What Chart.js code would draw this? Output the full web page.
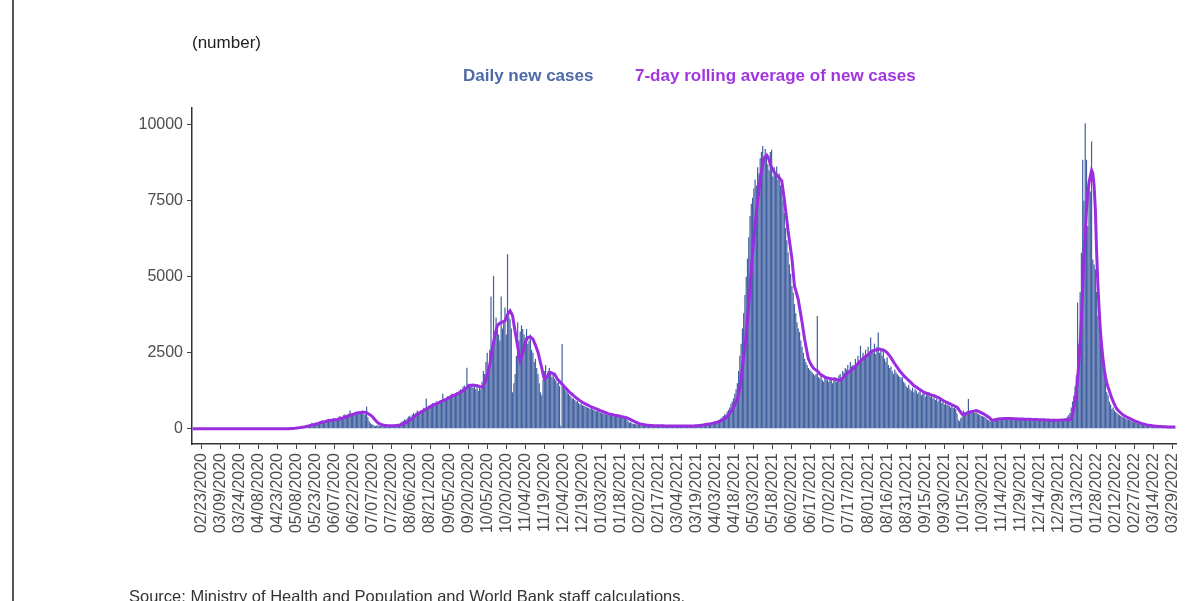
<!DOCTYPE html>
<html><head><meta charset="utf-8">
<script src="https://cdn.jsdelivr.net/npm/chart.js@4.4.1/dist/chart.umd.min.js"></script>
<style>
html,body{margin:0;padding:0;background:#fff;width:1187px;height:601px;overflow:hidden;font-family:"Liberation Sans",Arial,sans-serif;}
#wrap{position:relative;width:1187px;height:601px;}
canvas{position:absolute;left:0;top:0;}
.txt{position:absolute;white-space:nowrap;line-height:20px;}
</style></head><body>
<div id="wrap">
<div style="position:absolute;left:12px;top:0;width:2px;height:601px;background:#555"></div>
<canvas id="c" width="1187" height="601"></canvas>
<div class="txt" style="left:192px;top:33px;font-size:17px;color:#222;">(number)</div>
<div class="txt" style="left:463px;top:66px;font-size:17px;font-weight:bold;color:#4f6aa6;">Daily new cases</div>
<div class="txt" style="left:635px;top:66px;font-size:17px;font-weight:bold;color:#a135e0;">7-day rolling average of new cases</div>
<div class="txt" style="left:129px;top:586px;font-size:16.5px;color:#333;">Source: Ministry of Health and Population and World Bank staff calculations.</div>
</div>
<script>
// First day of the series (day index 0) = 02/16/2020
const startDate = [2020, 2, 16];

const tickLabels = ['02/23/2020','03/09/2020','03/24/2020','04/08/2020','04/23/2020','05/08/2020','05/23/2020','06/07/2020','06/22/2020','07/07/2020','07/22/2020','08/06/2020','08/21/2020','09/05/2020','09/20/2020','10/05/2020','10/20/2020','11/04/2020','11/19/2020','12/04/2020','12/19/2020','01/03/2021','01/18/2021','02/02/2021','02/17/2021','03/04/2021','03/19/2021','04/03/2021','04/18/2021','05/03/2021','05/18/2021','06/02/2021','06/17/2021','07/02/2021','07/17/2021','08/01/2021','08/16/2021','08/31/2021','09/15/2021','09/30/2021','10/15/2021','10/30/2021','11/14/2021','11/29/2021','12/14/2021','12/29/2021','01/13/2022','01/28/2022','02/12/2022','02/27/2022','03/14/2022','03/29/2022'];

const yTicks = [0, 2500, 5000, 7500, 10000];

const dailyCases = [
0,0,0,0,0,0,0,0,0,0,
0,0,0,0,0,0,0,0,0,0,
0,0,0,0,0,0,0,0,0,0,
0,0,0,0,0,0,1,0,0,0,
2,0,1,0,0,0,0,3,0,0,
1,0,0,0,4,0,0,0,0,5,
0,0,1,0,1,0,0,0,0,0,
0,3,1,0,0,2,10,24,15,20,
30,40,35,50,60,55,70,85,90,110,
100,95,150,140,200,170,160,180,210,150,
230,260,280,220,190,290,300,330,280,320,
260,350,300,320,330,380,420,400,360,450,
480,420,470,500,600,450,520,500,560,470,
580,540,520,580,540,470,480,730,380,250,
180,150,130,110,90,110,120,95,105,100,
90,110,85,100,120,95,105,110,90,130,
140,120,160,150,210,240,260,310,280,350,
400,430,380,460,520,470,540,600,560,510,
620,580,690,640,1000,700,760,720,800,850,
780,830,900,870,820,950,900,1150,960,1000,
1020,1080,990,1100,1150,1060,1120,1180,1200,1130,
1250,1300,1220,1380,1420,1350,2010,1480,1400,1380,
1450,1350,1420,1300,1470,1250,1380,1300,1550,1900,
1800,2200,2500,1900,2600,4350,2700,5030,3200,3660,
3400,3100,2900,4350,3300,3500,3990,3100,5743,3700,
3600,3300,1200,1500,1800,2400,3500,2900,3200,3400,
3280,3100,3000,3280,2800,2900,3100,2600,2500,2200,
2300,2000,1800,1500,1200,1100,1600,1900,2100,1700,
1900,2000,1850,1700,1800,1650,1600,1500,1550,1400,
100,2790,1400,1300,1250,1200,1150,1100,1050,1000,
1000,950,900,920,850,800,820,780,760,740,
720,700,680,650,700,640,620,600,580,620,
560,540,520,500,530,480,460,470,450,430,
440,420,410,450,400,420,390,380,370,360,
340,330,300,250,200,220,180,160,170,150,
140,130,120,110,125,115,105,110,100,115,
100,95,110,105,90,100,95,105,110,95,
90,100,85,95,100,90,95,85,90,100,
90,85,95,90,80,95,90,85,100,95,
90,95,85,100,95,110,115,120,130,125,
135,140,150,145,160,170,165,180,190,200,
210,220,240,260,280,300,340,380,420,470,
480,560,620,700,820,900,1000,1150,1300,1500,
1900,2400,2800,3300,3800,4400,5000,5600,6300,7000,
7400,7600,7900,8200,8000,8600,8400,8900,9100,9300,
8800,9200,9000,8700,8500,9100,9180,8300,8600,8400,
8630,8200,8400,8000,7900,7500,7100,6600,6200,5800,
5400,5100,4700,4480,4100,3800,3500,3300,3180,2900,
2700,2500,2300,2190,2100,2000,1950,1900,1850,1800,
1750,1800,3710,1700,1650,1750,1600,1550,1700,1650,
1600,1550,1700,1650,1500,1600,1700,1550,1650,1750,
1800,1700,1900,1850,2000,1950,2100,1900,2200,2050,
2100,2000,2300,2150,2400,2250,2730,2300,2500,2400,
2600,2450,2700,2550,3000,2600,2500,2800,2450,2700,
3170,2500,2600,2400,2650,2300,2200,2350,2100,2000,
2050,1900,1800,1950,1850,1800,1750,1700,1650,1700,
1550,1500,1400,1350,1450,1300,1250,1350,1200,1300,
1250,1150,1200,1300,1100,1150,1200,1050,1150,1100,
1200,1050,1100,1000,1050,950,1000,900,950,1000,
850,900,800,850,780,820,750,700,760,680,
700,650,500,300,250,350,400,600,550,500,
580,985,560,520,600,550,520,580,500,480,
450,430,420,400,380,350,300,280,260,250,
240,300,320,280,350,330,310,340,300,320,
330,310,340,320,300,350,330,310,320,340,
310,300,330,320,290,310,300,320,280,310,
300,290,310,280,300,320,290,300,280,310,
290,270,300,280,290,260,280,300,270,290,
280,300,270,290,310,280,300,320,350,400,
450,520,700,900,1090,1400,1750,4150,2800,4500,
5790,8850,7500,10050,8850,6670,8000,7800,9450,5570,
5400,5245,4500,3715,3390,3100,2840,2400,1900,1500,
1200,1100,900,800,655,700,600,550,520,480,
450,420,400,380,350,330,310,300,280,260,
240,220,210,190,180,160,150,140,130,120,
110,100,105,95,90,85,80,75,78,70,
68,65,60,62,58,55,52,50,48,52,
45,48,42,40,38
];

const rollingAvg = [
0,0,0,0,0,0,0,0,0,0,
0,0,0,0,0,0,0,0,0,0,
0,0,0,0,0,0,0,0,0,0,
0,0,0,0,0,0,0,0,0,0,
1,1,1,1,1,1,1,1,0,1,
1,1,1,2,2,2,2,2,2,2,
2,2,2,1,1,1,1,1,1,1,
1,1,1,1,1,2,3,6,8,10,
14,18,25,30,36,42,49,55,64,72,
81,90,100,112,126,135,145,158,168,180,
195,205,215,225,235,245,255,265,272,280,
285,290,295,300,305,312,325,340,352,368,
380,395,410,425,440,455,470,485,498,510,
520,528,535,542,550,548,540,530,505,480,
450,420,380,330,280,235,200,170,150,135,
122,115,110,106,104,102,100,100,100,102,
105,110,116,122,130,145,165,185,210,230,
250,280,310,345,380,415,450,475,500,525,
550,575,600,625,650,675,700,720,745,770,
790,808,825,845,862,880,900,920,940,960,
980,1000,1020,1045,1070,1090,1105,1120,1140,1160,
1180,1205,1230,1255,1290,1320,1355,1390,1420,1430,
1435,1440,1430,1425,1420,1405,1390,1380,1370,1420,
1500,1610,1750,1920,2100,2350,2620,2850,3050,3230,
3390,3440,3470,3500,3510,3530,3550,3650,3750,3820,
3880,3810,3715,3450,3200,2950,2700,2450,2240,2370,
2500,2680,2850,2930,3000,3010,3020,2990,2950,2850,
2750,2640,2520,2350,2170,2000,1800,1640,1670,1700,
1780,1860,1850,1830,1810,1800,1730,1660,1600,1560,
1510,1470,1420,1375,1330,1290,1240,1200,1165,1130,
1090,1055,1020,990,960,925,895,870,850,825,
805,785,765,740,720,705,690,670,655,638,
620,600,585,570,555,535,520,500,490,480,
470,460,450,440,435,428,420,410,400,390,
380,370,355,340,320,300,280,260,240,220,
200,180,165,155,145,138,130,125,118,114,
110,108,106,104,102,101,100,100,100,99,
98,97,96,95,94,93,92,91,90,90,
90,90,89,89,88,88,88,89,89,90,
90,90,90,91,92,94,97,100,104,109,
114,120,126,133,140,147,154,162,170,178,
187,197,207,218,230,245,262,282,305,330,
360,400,450,505,565,630,700,790,890,1000,
1150,1350,1650,2000,2350,2700,3100,3600,4100,4600,
5200,5800,6250,6700,7100,7500,7850,8200,8450,8700,
8900,8950,9000,8950,8850,8700,8600,8520,8450,8400,
8350,8300,8260,8200,8150,7850,7550,7200,6850,6500,
6200,5900,5600,5150,4700,4550,4400,4250,4000,3750,
3500,3220,2950,2720,2500,2300,2200,2120,2050,1990,
1960,1930,1900,1860,1800,1780,1750,1730,1700,1680,
1670,1660,1650,1645,1640,1640,1630,1620,1610,1605,
1600,1620,1660,1710,1760,1800,1840,1870,1910,1940,
1970,2010,2060,2100,2150,2190,2230,2270,2310,2350,
2380,2400,2440,2470,2510,2540,2570,2580,2590,2600,
2610,2620,2610,2590,2580,2570,2540,2500,2450,2400,
2340,2270,2200,2140,2075,2020,1960,1900,1850,1800,
1750,1710,1670,1630,1590,1550,1510,1465,1420,1395,
1370,1340,1310,1285,1260,1230,1200,1185,1170,1155,
1140,1125,1110,1100,1090,1070,1050,1030,1010,990,
960,930,910,890,870,850,830,810,790,770,
750,730,710,660,600,540,480,450,470,490,
520,540,550,560,570,580,590,600,590,570,
550,530,510,490,460,435,410,380,340,300,
280,290,300,310,320,325,330,332,334,335,
335,338,340,340,338,336,334,332,330,328,
326,325,324,322,320,318,316,315,314,312,
310,308,306,305,304,302,300,300,298,296,
295,294,292,290,288,286,285,284,282,280,
280,280,282,285,288,290,292,295,298,300,
300,300,350,480,680,900,1200,1650,2200,2800,
3600,4600,5600,6400,7200,7750,8100,8300,8500,8400,
8000,7200,5800,4700,3900,3200,2700,2300,1950,1700,
1500,1370,1250,1120,1000,900,800,720,650,600,
560,520,480,450,425,400,380,360,340,320,
300,280,260,240,225,210,195,180,168,155,
145,135,127,120,112,106,100,95,90,86,
82,79,76,73,70,68,66,64,62,60,
59,58,57,56,55
];

// category labels: one per day starting at startDate
function pad(n){return (n<10?'0':'')+n;}
const dayLabels = [];
for (let i = 0; i < dailyCases.length; i++) {
  const d = new Date(Date.UTC(startDate[0], startDate[1]-1, startDate[2] + i));
  dayLabels.push(pad(d.getUTCMonth()+1)+'/'+pad(d.getUTCDate())+'/'+d.getUTCFullYear());
}
const tickSet = new Set(tickLabels);

const tickFont = {family:'"Liberation Sans", Arial, sans-serif', size:16};

new Chart(document.getElementById('c'), {
  type: 'bar',
  data: {
    labels: dayLabels,
    datasets: [
      {type:'line', label:'7-day rolling average of new cases', data: rollingAvg,
       borderColor:'#9b2de0', borderWidth:3, pointRadius:0, tension:0, order:0},
      {type:'bar', label:'Daily new cases', data: dailyCases,
       backgroundColor:'#4261a0', barPercentage:0.95, categoryPercentage:1.0, order:1}
    ]
  },
  options: {
    responsive:false, animation:false, devicePixelRatio:1,
    layout:{padding:{left:0, top:108, right:11, bottom:0}},
    plugins:{legend:{display:false}, tooltip:{enabled:false}},
    scales:{
      x:{
        type:'category', offset:true,
        grid:{offset:false, drawOnChartArea:false, drawTicks:true, tickLength:5, lineWidth:1,
              color:(c)=> (c.tick && tickSet.has(dayLabels[c.index])) ? '#444' : 'rgba(0,0,0,0)'},
        border:{display:true, color:'#333', width:1.5},
        ticks:{autoSkip:false, maxRotation:90, minRotation:90, padding:4, color:'#4d4d4d', font:tickFont,
               callback:(v,i)=> tickSet.has(dayLabels[i]) ? dayLabels[i] : ''},
        afterFit:(s)=>{ s.height = 157; s.paddingLeft = 0; s.paddingRight = 0; }
      },
      y:{
        min:-500, max:10550,
        afterBuildTicks:(s)=>{ s.ticks = yTicks.map(v=>({value:v})); },
        grid:{drawOnChartArea:false, drawTicks:true, tickLength:5, color:'#444', lineWidth:1},
        border:{display:true, color:'#333', width:1.5},
        ticks:{padding:4, color:'#4d4d4d', font:tickFont, callback:(v)=> String(v)},
        afterFit:(s)=>{ s.width = 192; s.paddingTop = 0; s.paddingBottom = 0; }
      }
    }
  }
});
</script>
</body></html>
